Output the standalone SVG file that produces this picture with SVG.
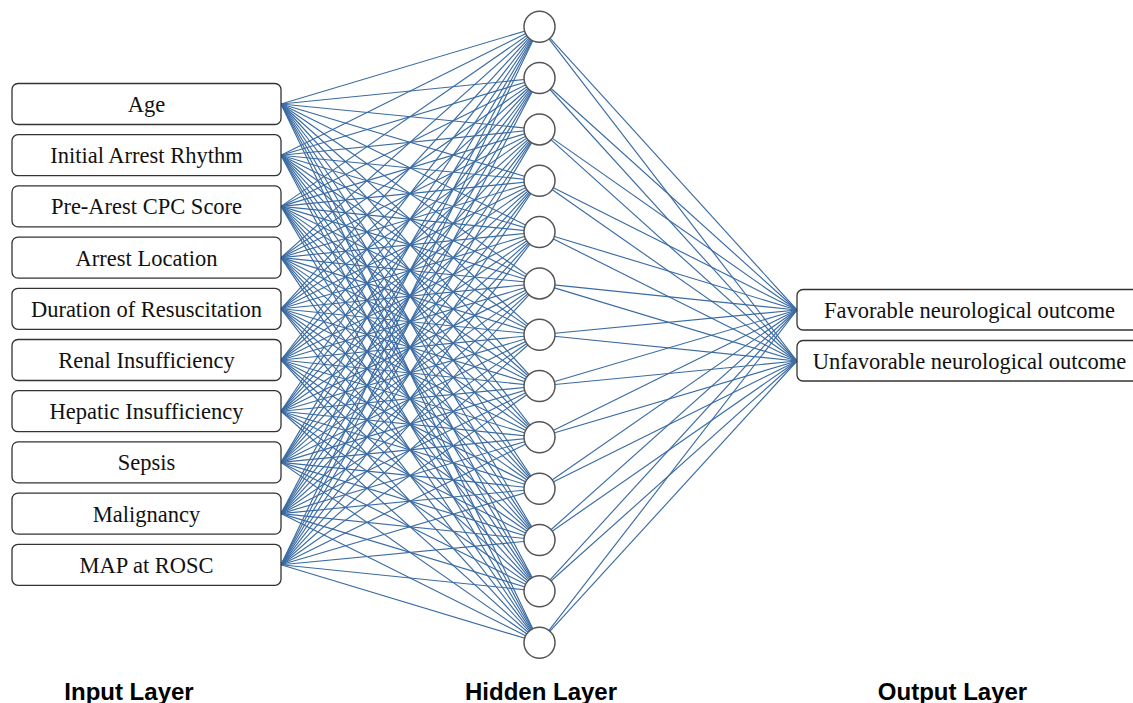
<svg xmlns="http://www.w3.org/2000/svg" width="1133" height="703" viewBox="0 0 1133 703">
<style>
.box{fill:#fff;stroke:#333;stroke-width:1.3}
.neu{fill:#fff;stroke:#555;stroke-width:1.5}
.t{font-family:"Liberation Serif","Times New Roman",serif;font-size:22.5px;fill:#111;text-anchor:middle}
.h{font-family:"Liberation Sans",Arial,sans-serif;font-size:24px;font-weight:bold;fill:#000;text-anchor:middle}
#connectors line{stroke:#3a6ba3;stroke-width:1.15}
</style>
<rect width="1133" height="703" fill="#fff"/>
<g id="connectors">
<line x1="281" y1="104" x2="539.5" y2="26.7"/><line x1="281" y1="104" x2="539.5" y2="78"/><line x1="281" y1="104" x2="539.5" y2="129.4"/><line x1="281" y1="104" x2="539.5" y2="180.7"/><line x1="281" y1="104" x2="539.5" y2="232"/><line x1="281" y1="104" x2="539.5" y2="283.4"/><line x1="281" y1="104" x2="539.5" y2="334.7"/><line x1="281" y1="104" x2="539.5" y2="386"/><line x1="281" y1="104" x2="539.5" y2="437.3"/><line x1="281" y1="104" x2="539.5" y2="488.7"/><line x1="281" y1="104" x2="539.5" y2="540"/><line x1="281" y1="104" x2="539.5" y2="591.3"/><line x1="281" y1="104" x2="539.5" y2="642.7"/>
<line x1="281" y1="155.2" x2="539.5" y2="26.7"/><line x1="281" y1="155.2" x2="539.5" y2="78"/><line x1="281" y1="155.2" x2="539.5" y2="129.4"/><line x1="281" y1="155.2" x2="539.5" y2="180.7"/><line x1="281" y1="155.2" x2="539.5" y2="232"/><line x1="281" y1="155.2" x2="539.5" y2="283.4"/><line x1="281" y1="155.2" x2="539.5" y2="334.7"/><line x1="281" y1="155.2" x2="539.5" y2="386"/><line x1="281" y1="155.2" x2="539.5" y2="437.3"/><line x1="281" y1="155.2" x2="539.5" y2="488.7"/><line x1="281" y1="155.2" x2="539.5" y2="540"/><line x1="281" y1="155.2" x2="539.5" y2="591.3"/><line x1="281" y1="155.2" x2="539.5" y2="642.7"/>
<line x1="281" y1="206.4" x2="539.5" y2="26.7"/><line x1="281" y1="206.4" x2="539.5" y2="78"/><line x1="281" y1="206.4" x2="539.5" y2="129.4"/><line x1="281" y1="206.4" x2="539.5" y2="180.7"/><line x1="281" y1="206.4" x2="539.5" y2="232"/><line x1="281" y1="206.4" x2="539.5" y2="283.4"/><line x1="281" y1="206.4" x2="539.5" y2="334.7"/><line x1="281" y1="206.4" x2="539.5" y2="386"/><line x1="281" y1="206.4" x2="539.5" y2="437.3"/><line x1="281" y1="206.4" x2="539.5" y2="488.7"/><line x1="281" y1="206.4" x2="539.5" y2="540"/><line x1="281" y1="206.4" x2="539.5" y2="591.3"/><line x1="281" y1="206.4" x2="539.5" y2="642.7"/>
<line x1="281" y1="257.6" x2="539.5" y2="26.7"/><line x1="281" y1="257.6" x2="539.5" y2="78"/><line x1="281" y1="257.6" x2="539.5" y2="129.4"/><line x1="281" y1="257.6" x2="539.5" y2="180.7"/><line x1="281" y1="257.6" x2="539.5" y2="232"/><line x1="281" y1="257.6" x2="539.5" y2="283.4"/><line x1="281" y1="257.6" x2="539.5" y2="334.7"/><line x1="281" y1="257.6" x2="539.5" y2="386"/><line x1="281" y1="257.6" x2="539.5" y2="437.3"/><line x1="281" y1="257.6" x2="539.5" y2="488.7"/><line x1="281" y1="257.6" x2="539.5" y2="540"/><line x1="281" y1="257.6" x2="539.5" y2="591.3"/><line x1="281" y1="257.6" x2="539.5" y2="642.7"/>
<line x1="281" y1="308.8" x2="539.5" y2="26.7"/><line x1="281" y1="308.8" x2="539.5" y2="78"/><line x1="281" y1="308.8" x2="539.5" y2="129.4"/><line x1="281" y1="308.8" x2="539.5" y2="180.7"/><line x1="281" y1="308.8" x2="539.5" y2="232"/><line x1="281" y1="308.8" x2="539.5" y2="283.4"/><line x1="281" y1="308.8" x2="539.5" y2="334.7"/><line x1="281" y1="308.8" x2="539.5" y2="386"/><line x1="281" y1="308.8" x2="539.5" y2="437.3"/><line x1="281" y1="308.8" x2="539.5" y2="488.7"/><line x1="281" y1="308.8" x2="539.5" y2="540"/><line x1="281" y1="308.8" x2="539.5" y2="591.3"/><line x1="281" y1="308.8" x2="539.5" y2="642.7"/>
<line x1="281" y1="360" x2="539.5" y2="26.7"/><line x1="281" y1="360" x2="539.5" y2="78"/><line x1="281" y1="360" x2="539.5" y2="129.4"/><line x1="281" y1="360" x2="539.5" y2="180.7"/><line x1="281" y1="360" x2="539.5" y2="232"/><line x1="281" y1="360" x2="539.5" y2="283.4"/><line x1="281" y1="360" x2="539.5" y2="334.7"/><line x1="281" y1="360" x2="539.5" y2="386"/><line x1="281" y1="360" x2="539.5" y2="437.3"/><line x1="281" y1="360" x2="539.5" y2="488.7"/><line x1="281" y1="360" x2="539.5" y2="540"/><line x1="281" y1="360" x2="539.5" y2="591.3"/><line x1="281" y1="360" x2="539.5" y2="642.7"/>
<line x1="281" y1="411.2" x2="539.5" y2="26.7"/><line x1="281" y1="411.2" x2="539.5" y2="78"/><line x1="281" y1="411.2" x2="539.5" y2="129.4"/><line x1="281" y1="411.2" x2="539.5" y2="180.7"/><line x1="281" y1="411.2" x2="539.5" y2="232"/><line x1="281" y1="411.2" x2="539.5" y2="283.4"/><line x1="281" y1="411.2" x2="539.5" y2="334.7"/><line x1="281" y1="411.2" x2="539.5" y2="386"/><line x1="281" y1="411.2" x2="539.5" y2="437.3"/><line x1="281" y1="411.2" x2="539.5" y2="488.7"/><line x1="281" y1="411.2" x2="539.5" y2="540"/><line x1="281" y1="411.2" x2="539.5" y2="591.3"/><line x1="281" y1="411.2" x2="539.5" y2="642.7"/>
<line x1="281" y1="462.4" x2="539.5" y2="26.7"/><line x1="281" y1="462.4" x2="539.5" y2="78"/><line x1="281" y1="462.4" x2="539.5" y2="129.4"/><line x1="281" y1="462.4" x2="539.5" y2="180.7"/><line x1="281" y1="462.4" x2="539.5" y2="232"/><line x1="281" y1="462.4" x2="539.5" y2="283.4"/><line x1="281" y1="462.4" x2="539.5" y2="334.7"/><line x1="281" y1="462.4" x2="539.5" y2="386"/><line x1="281" y1="462.4" x2="539.5" y2="437.3"/><line x1="281" y1="462.4" x2="539.5" y2="488.7"/><line x1="281" y1="462.4" x2="539.5" y2="540"/><line x1="281" y1="462.4" x2="539.5" y2="591.3"/><line x1="281" y1="462.4" x2="539.5" y2="642.7"/>
<line x1="281" y1="513.6" x2="539.5" y2="26.7"/><line x1="281" y1="513.6" x2="539.5" y2="78"/><line x1="281" y1="513.6" x2="539.5" y2="129.4"/><line x1="281" y1="513.6" x2="539.5" y2="180.7"/><line x1="281" y1="513.6" x2="539.5" y2="232"/><line x1="281" y1="513.6" x2="539.5" y2="283.4"/><line x1="281" y1="513.6" x2="539.5" y2="334.7"/><line x1="281" y1="513.6" x2="539.5" y2="386"/><line x1="281" y1="513.6" x2="539.5" y2="437.3"/><line x1="281" y1="513.6" x2="539.5" y2="488.7"/><line x1="281" y1="513.6" x2="539.5" y2="540"/><line x1="281" y1="513.6" x2="539.5" y2="591.3"/><line x1="281" y1="513.6" x2="539.5" y2="642.7"/>
<line x1="281" y1="564.8" x2="539.5" y2="26.7"/><line x1="281" y1="564.8" x2="539.5" y2="78"/><line x1="281" y1="564.8" x2="539.5" y2="129.4"/><line x1="281" y1="564.8" x2="539.5" y2="180.7"/><line x1="281" y1="564.8" x2="539.5" y2="232"/><line x1="281" y1="564.8" x2="539.5" y2="283.4"/><line x1="281" y1="564.8" x2="539.5" y2="334.7"/><line x1="281" y1="564.8" x2="539.5" y2="386"/><line x1="281" y1="564.8" x2="539.5" y2="437.3"/><line x1="281" y1="564.8" x2="539.5" y2="488.7"/><line x1="281" y1="564.8" x2="539.5" y2="540"/><line x1="281" y1="564.8" x2="539.5" y2="591.3"/><line x1="281" y1="564.8" x2="539.5" y2="642.7"/>
<line x1="539.5" y1="26.7" x2="797" y2="310"/><line x1="539.5" y1="78" x2="797" y2="310"/><line x1="539.5" y1="129.4" x2="797" y2="310"/><line x1="539.5" y1="180.7" x2="797" y2="310"/><line x1="539.5" y1="232" x2="797" y2="310"/><line x1="539.5" y1="283.4" x2="797" y2="310"/><line x1="539.5" y1="334.7" x2="797" y2="310"/><line x1="539.5" y1="386" x2="797" y2="310"/><line x1="539.5" y1="437.3" x2="797" y2="310"/><line x1="539.5" y1="488.7" x2="797" y2="310"/><line x1="539.5" y1="540" x2="797" y2="310"/><line x1="539.5" y1="591.3" x2="797" y2="310"/><line x1="539.5" y1="642.7" x2="797" y2="310"/>
<line x1="539.5" y1="26.7" x2="797" y2="361"/><line x1="539.5" y1="78" x2="797" y2="361"/><line x1="539.5" y1="129.4" x2="797" y2="361"/><line x1="539.5" y1="180.7" x2="797" y2="361"/><line x1="539.5" y1="232" x2="797" y2="361"/><line x1="539.5" y1="283.4" x2="797" y2="361"/><line x1="539.5" y1="334.7" x2="797" y2="361"/><line x1="539.5" y1="386" x2="797" y2="361"/><line x1="539.5" y1="437.3" x2="797" y2="361"/><line x1="539.5" y1="488.7" x2="797" y2="361"/><line x1="539.5" y1="540" x2="797" y2="361"/><line x1="539.5" y1="591.3" x2="797" y2="361"/><line x1="539.5" y1="642.7" x2="797" y2="361"/>
</g>
<g id="input-age"><rect class="box" x="12" y="83.5" width="269" height="41" rx="6"/><text class="t" x="146.5" y="112">Age</text></g>
<g id="input-rhythm"><rect class="box" x="12" y="134.7" width="269" height="41" rx="6"/><text class="t" x="146.5" y="163.2">Initial Arrest Rhythm</text></g>
<g id="input-cpc"><rect class="box" x="12" y="185.9" width="269" height="41" rx="6"/><text class="t" x="146.5" y="214.4">Pre-Arest CPC Score</text></g>
<g id="input-location"><rect class="box" x="12" y="237.1" width="269" height="41" rx="6"/><text class="t" x="146.5" y="265.6">Arrest Location</text></g>
<g id="input-duration"><rect class="box" x="12" y="288.3" width="269" height="41" rx="6"/><text class="t" x="146.5" y="316.8">Duration of Resuscitation</text></g>
<g id="input-renal"><rect class="box" x="12" y="339.5" width="269" height="41" rx="6"/><text class="t" x="146.5" y="368">Renal Insufficiency</text></g>
<g id="input-hepatic"><rect class="box" x="12" y="390.7" width="269" height="41" rx="6"/><text class="t" x="146.5" y="419.2">Hepatic Insufficiency</text></g>
<g id="input-sepsis"><rect class="box" x="12" y="441.9" width="269" height="41" rx="6"/><text class="t" x="146.5" y="470.4">Sepsis</text></g>
<g id="input-malignancy"><rect class="box" x="12" y="493.1" width="269" height="41" rx="6"/><text class="t" x="146.5" y="521.6">Malignancy</text></g>
<g id="input-map"><rect class="box" x="12" y="544.3" width="269" height="41" rx="6"/><text class="t" x="146.5" y="572.8">MAP at ROSC</text></g>
<g id="h1"><circle class="neu" cx="539.5" cy="26.7" r="15.5"/></g>
<g id="h2"><circle class="neu" cx="539.5" cy="78" r="15.5"/></g>
<g id="h3"><circle class="neu" cx="539.5" cy="129.4" r="15.5"/></g>
<g id="h4"><circle class="neu" cx="539.5" cy="180.7" r="15.5"/></g>
<g id="h5"><circle class="neu" cx="539.5" cy="232" r="15.5"/></g>
<g id="h6"><circle class="neu" cx="539.5" cy="283.4" r="15.5"/></g>
<g id="h7"><circle class="neu" cx="539.5" cy="334.7" r="15.5"/></g>
<g id="h8"><circle class="neu" cx="539.5" cy="386" r="15.5"/></g>
<g id="h9"><circle class="neu" cx="539.5" cy="437.3" r="15.5"/></g>
<g id="h10"><circle class="neu" cx="539.5" cy="488.7" r="15.5"/></g>
<g id="h11"><circle class="neu" cx="539.5" cy="540" r="15.5"/></g>
<g id="h12"><circle class="neu" cx="539.5" cy="591.3" r="15.5"/></g>
<g id="h13"><circle class="neu" cx="539.5" cy="642.7" r="15.5"/></g>
<g id="out-favorable"><rect class="box" x="797" y="289.5" width="350" height="40.5" rx="6"/><text class="t" x="969.5" y="318">Favorable neurological outcome</text></g>
<g id="out-unfavorable"><rect class="box" x="797" y="340.5" width="350" height="40.5" rx="6"/><text class="t" x="969.5" y="369">Unfavorable neurological outcome</text></g>
<g id="layer-labels">
<text class="h" x="129" y="700">Input Layer</text>
<text class="h" x="541" y="700">Hidden Layer</text>
<text class="h" x="952.5" y="700">Output Layer</text>
</g>
</svg>
